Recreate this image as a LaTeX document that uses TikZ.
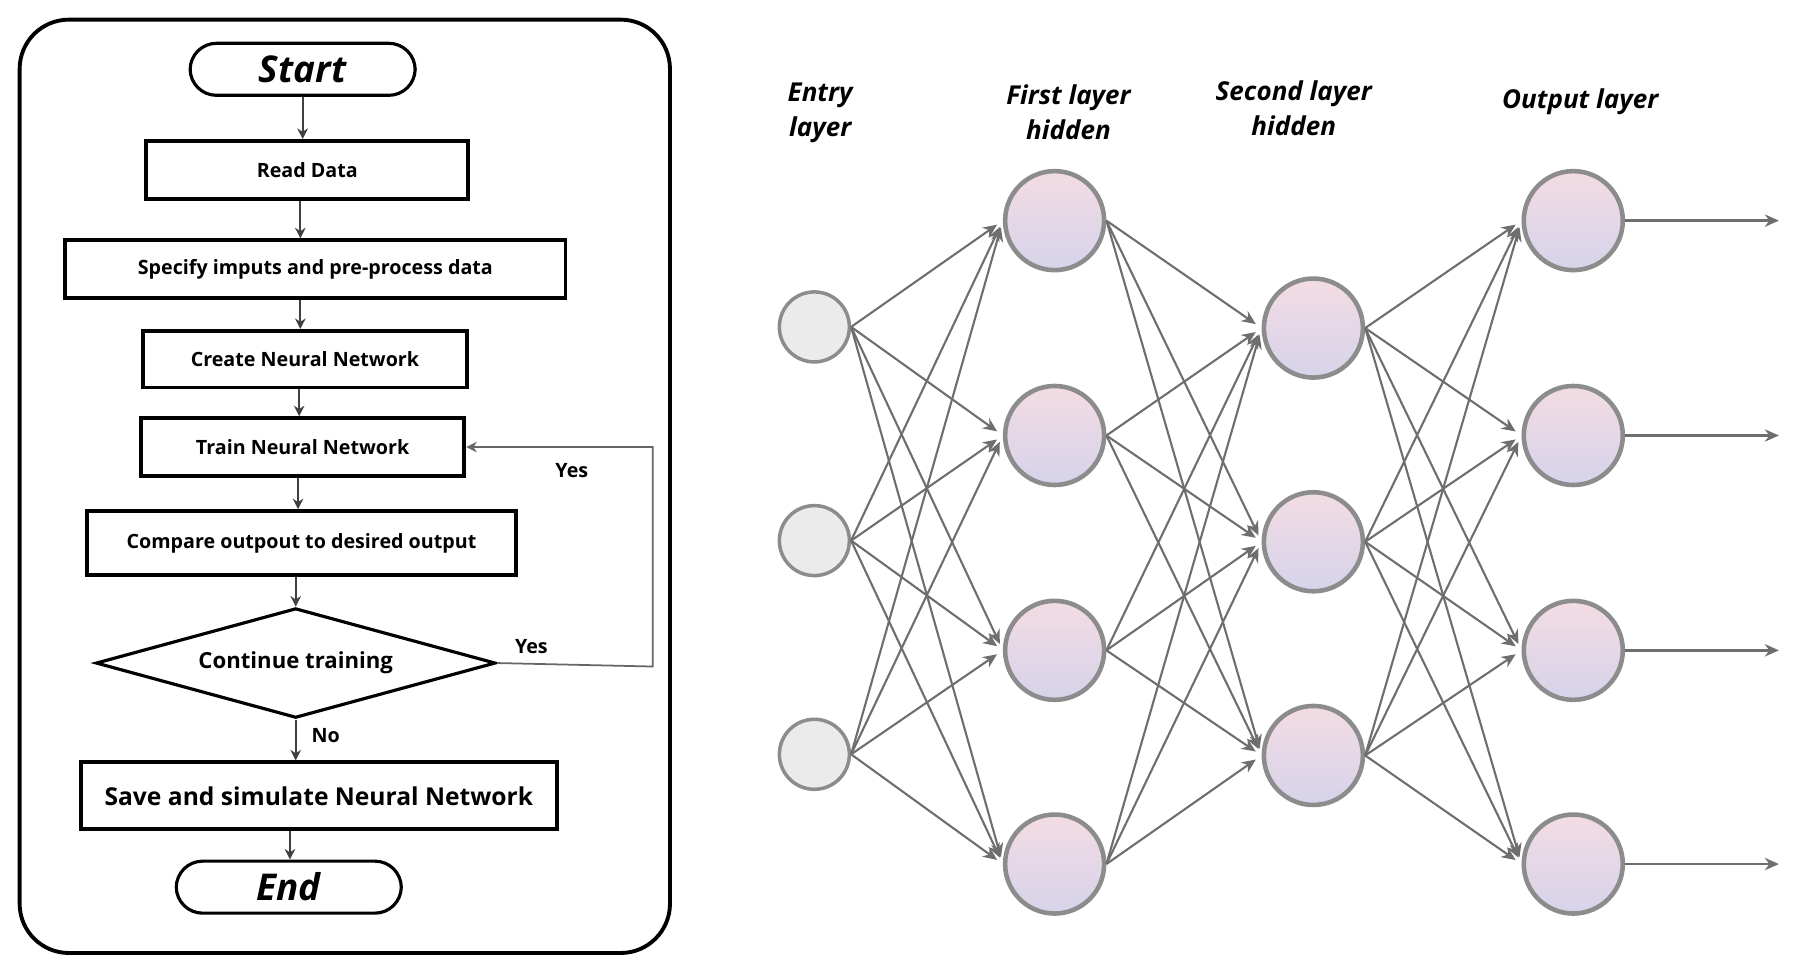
\documentclass[tikz,border=0pt]{standalone}
\usepackage{fontspec}
\setmainfont{Open Sans}
\usetikzlibrary{shapes.geometric,arrows.meta}
\definecolor{edgegray}{HTML}{6E6E6E}
\definecolor{rimgray}{HTML}{8C8C8C}
\definecolor{toppink}{HTML}{F3DCE3}
\definecolor{botlav}{HTML}{D6D3EA}
\tikzset{
  box/.style={draw,line width=1.1pt,inner sep=0pt,font=\fontsize{5.6}{6}\selectfont\bfseries},
  term/.style={draw,line width=0.9pt,rounded corners=7.5pt,minimum width=2.25cm,minimum height=0.52cm,font=\fontsize{10.5}{12}\selectfont\bfseries\itshape},
  flow/.style={-{Stealth[length=3pt,width=3pt]},line width=0.5pt,black!75},
  innode/.style={circle,draw=rimgray,line width=1pt,fill=black!8,minimum size=0.7cm},
  hidnode/.style={circle,draw=rimgray,line width=1.3pt,top color=toppink,bottom color=botlav,minimum size=0.99cm},
  link/.style={-{Stealth[length=4pt,width=3.5pt]},edgegray,line width=0.6pt,shorten >=2pt},
  title/.style={font=\fontsize{7.4}{10}\selectfont\bfseries\itshape,align=center}
}
\begin{document}
\begin{tikzpicture}[x=0.1155mm,y=-0.1155mm]
		\useasboundingbox (0,0) rectangle (1560,837);
		% flowchart frame
		\draw[line width=1.1pt,rounded corners=14pt] (17,17) rectangle (580,825);
		\node[term] (start) at (262,60) {Start};
		\node[box,minimum width=279*0.1155mm,minimum height=50*0.1155mm] (read) at (266,147) {Read Data};
		\node[box,minimum width=433*0.1155mm,minimum height=50*0.1155mm] (spec) at (273,233) {Specify imputs and pre-process data};
		\node[box,minimum width=280*0.1155mm,minimum height=49*0.1155mm] (create) at (264,311) {Create Neural Network};
		\node[box,minimum width=280*0.1155mm,minimum height=50*0.1155mm] (train) at (262,387) {Train Neural Network};
		\node[box,minimum width=372*0.1155mm,minimum height=55*0.1155mm] (comp) at (261,470) {Compare outpout to desired output};
		\node[diamond,draw,line width=0.9pt,aspect=3.6,minimum width=346*0.1155mm,minimum height=95*0.1155mm,inner sep=0pt,font=\fontsize{6.3}{7}\selectfont\bfseries] (cont) at (256,574) {Continue training};
		\node[box,minimum width=412*0.1155mm,minimum height=58*0.1155mm,font=\fontsize{7}{8}\selectfont\bfseries] (save) at (276,689) {Save and simulate Neural Network};
		\node[term] (stop) at (250,768) {End};
		\draw[flow] (start) -- (start|-read.north);
		\draw[flow] (read.south-|260,0) -- (spec.north-|260,0);
		\draw[flow] (spec.south-|260,0) -- (create.north-|260,0);
		\draw[flow] (create.south-|259,0) -- (train.north-|259,0);
		\draw[flow] (train.south-|258,0) -- (comp.north-|258,0);
		\draw[flow] (comp.south-|256,0) -- (cont.north);
		\draw[flow] (cont.south) -- (save.north-|cont.south);
		\draw[flow] (save.south-|251,0) -- (stop.north-|251,0);
		\coordinate (loop) at (565,577);
		\draw[flow,black!60] (cont.east) -- (loop) |- (train.east);
		\node[font=\fontsize{5.6}{6}\selectfont\bfseries] (yesa) at (460,560) {Yes};
		\node[font=\fontsize{5.6}{6}\selectfont\bfseries] (yesb) at (495,407) {Yes};
		\node[font=\fontsize{5.6}{6}\selectfont\bfseries] (no) at (282,637) {No};
		% network
		\node[title] (tin) at (710,98) {Entry\\layer};
		\node[title] (th1) at (925,97) {First layer\\hidden};
		\node[title] (th2) at (1120,94) {Second layer\\hidden};
		\node[title] (tout) at (1368,88) {Output layer};
		\foreach \i/\y in {1/283,2/468,3/653} \node[innode] (in\i) at (705,\y) {};
		\foreach \i/\y in {1/191,2/377,3/563,4/748} \node[hidnode] (ha\i) at (913,\y) {};
		\foreach \i/\y in {1/284,2/469,3/654} \node[hidnode] (hb\i) at (1137,\y) {};
		\foreach \i/\y in {1/191,2/377,3/563,4/748} {
			\node[hidnode] (out\i) at (1362,\y) {};
			\coordinate (end\i) at (1540,\y);
			\draw[-{Stealth[length=4pt,width=3.5pt]},edgegray,line width=0.8pt] (out\i) -- (end\i);
		}
		\foreach \a in {1,2,3} \foreach \b in {1,2,3,4} \draw[link] (in\a.east) -- (ha\b.west);
		\foreach \a in {1,2,3,4} \foreach \b in {1,2,3} \draw[link] (ha\a.east) -- (hb\b.west);
		\foreach \a in {1,2,3} \foreach \b in {1,2,3,4} \draw[link] (hb\a.east) -- (out\b.west);
\end{tikzpicture}
\end{document}
